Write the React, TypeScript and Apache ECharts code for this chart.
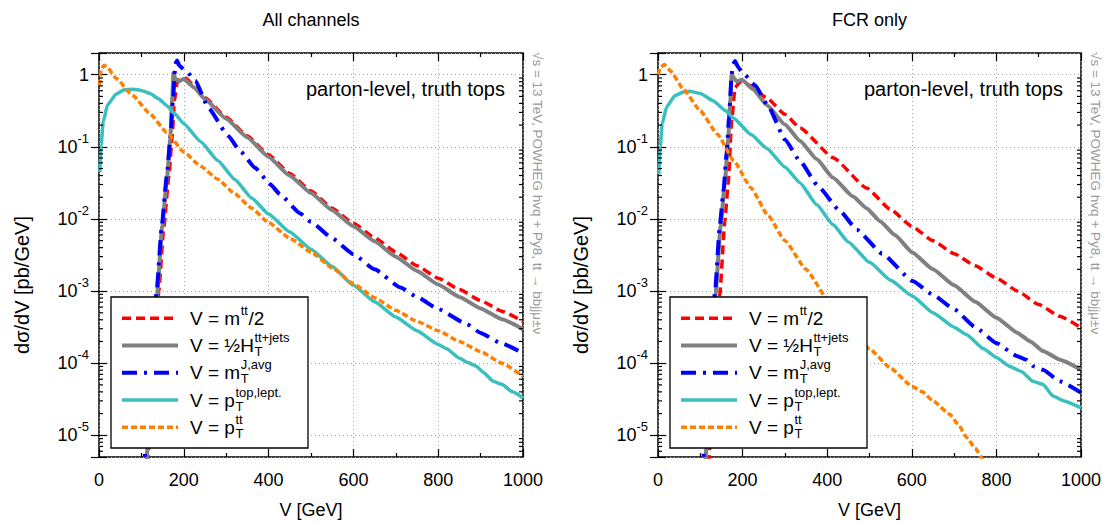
import React, { useEffect, useRef } from "react";
import * as echarts from "echarts";

const FONT = '"Liberation Sans", Arial, Helvetica, sans-serif';

// Panel titles and legend labels
const panelTitles = ["All channels", "FCR only"];
const seriesNames = ["mtt/2", "HT/2", "mT avg", "pT top lept", "pT tt"];

// [V (GeV), dσ/dV (pb/GeV)] — all channels
const allMtt = [
  [115, 4.0e-6], [128, 5.0e-5], [141, 1.0e-3], [153, 7.9e-3], [165, 0.04], [172, 0.126], [178, 0.447],
  [184, 0.76], [192, 0.87], [205, 0.89], [225, 0.69], [250, 0.479], [300, 0.257], [350, 0.141],
  [400, 0.0776], [450, 0.0427], [500, 0.0245], [550, 0.0141], [600, 8.7e-3], [650, 5.5e-3],
  [700, 3.47e-3], [750, 2.24e-3], [800, 1.51e-3], [850, 1.05e-3], [900, 7.4e-4], [950, 5.25e-4], [1000, 3.8e-4],
];
const allHt = [
  [112, 4.0e-6], [124, 5.0e-5], [137, 8.9e-4], [149, 7.9e-3], [161, 0.04], [168, 0.126], [173, 0.5],
  [175.5, 1.05], [180, 0.89], [187, 0.81], [200, 0.87], [225, 0.66], [250, 0.457], [300, 0.245],
  [350, 0.135], [400, 0.0724], [450, 0.0398], [500, 0.0229], [550, 0.0132], [600, 7.9e-3], [650, 4.9e-3],
  [700, 3.0e-3], [750, 1.9e-3], [800, 1.23e-3], [850, 8.3e-4], [900, 5.75e-4], [950, 4.07e-4], [1000, 2.95e-4],
];
const allMtAvg = [
  [105, 2.5e-6], [122, 7.9e-5], [136, 1.0e-3], [148, 7.9e-3], [160, 0.04], [168, 0.126], [175, 0.5],
  [180, 1.41], [184, 1.58], [190, 1.32], [207, 1.1], [227, 0.83], [258, 0.347], [305, 0.141],
  [333, 0.087], [368, 0.0513], [404, 0.0302], [427, 0.0219], [474, 0.012], [500, 9.1e-3], [550, 5.4e-3],
  [600, 3.24e-3], [650, 2.0e-3], [711, 1.12e-3], [750, 8.3e-4], [801, 5.6e-4], [868, 3.47e-4],
  [900, 2.63e-4], [947, 1.9e-4], [1000, 1.38e-4],
];
const allPtTop = [
  [2, 0.0447], [5, 0.107], [10, 0.224], [20, 0.38], [40, 0.537], [60, 0.617], [80, 0.631], [100, 0.603],
  [120, 0.55], [140, 0.468], [160, 0.372], [180, 0.282], [200, 0.209], [240, 0.1175], [280, 0.0646],
  [320, 0.0355], [360, 0.0195], [400, 0.01175], [450, 6.6e-3], [500, 3.8e-3], [550, 2.19e-3],
  [600, 1.2e-3], [650, 7.1e-4], [700, 4.37e-4], [750, 2.82e-4], [800, 1.82e-4], [820, 1.58e-4],
  [850, 1.17e-4], [870, 1.02e-4], [890, 9.1e-5], [907, 7.4e-5], [930, 5.6e-5], [950, 5.1e-5],
  [975, 4.0e-5], [1000, 3.3e-5],
];
const allPtTT = [
  [1, 0.708], [5, 1.2], [12, 1.35], [20, 1.26], [40, 0.89], [80, 0.513], [120, 0.288], [160, 0.158],
  [200, 0.085], [240, 0.0537], [280, 0.0355], [320, 0.0224], [360, 0.0141], [400, 8.9e-3], [450, 5.4e-3],
  [500, 3.47e-3], [550, 2.09e-3], [600, 1.26e-3], [650, 8.1e-4], [700, 5.4e-4], [750, 3.8e-4],
  [800, 2.82e-4], [850, 2.0e-4], [900, 1.45e-4], [950, 1.0e-4], [1000, 6.6e-5],
];

// [V (GeV), dσ/dV (pb/GeV)] — FCR only
const fcrMtt = [
  [120, 4.0e-6], [133, 5.0e-5], [146, 8.9e-4], [158, 9.3e-3], [166, 0.0316], [174, 0.224], [182, 0.66],
  [194, 0.794], [210, 0.741], [257, 0.479], [300, 0.282], [336, 0.182], [414, 0.0708], [493, 0.0269],
  [550, 0.0135], [600, 7.9e-3], [650, 5.0e-3], [700, 3.3e-3], [750, 2.24e-3], [800, 1.51e-3],
  [850, 1.0e-3], [900, 6.5e-4], [950, 4.47e-4], [1000, 3.1e-4],
];
const fcrHt = [
  [112, 4.0e-6], [124, 5.0e-5], [136, 8.9e-4], [148, 7.9e-3], [158, 0.0316], [166, 0.126], [171, 0.447],
  [174, 1.0], [180, 0.89], [186, 0.81], [198, 0.85], [225, 0.63], [257, 0.38], [300, 0.204], [336, 0.12],
  [375, 0.0676], [414, 0.0372], [461, 0.0204], [493, 0.0141], [525, 9.3e-3], [560, 6.0e-3], [602, 3.4e-3],
  [650, 2.0e-3], [700, 1.2e-3], [750, 7.1e-4], [800, 4.27e-4], [850, 2.63e-4], [880, 2.0e-4],
  [910, 1.48e-4], [950, 1.12e-4], [1000, 8.1e-5],
];
const fcrMtAvg = [
  [105, 2.5e-6], [121, 7.9e-5], [135, 1.0e-3], [146, 7.9e-3], [155, 0.0251], [162, 0.0794], [168, 0.251],
  [174, 1.0], [178, 1.41], [182, 1.55], [190, 1.26], [200, 1.07], [229, 0.72], [261, 0.363], [300, 0.126],
  [336, 0.063], [379, 0.0282], [430, 0.0129], [470, 7.1e-3], [530, 3.3e-3], [602, 1.38e-3], [650, 8.9e-4],
  [700, 5.6e-4], [750, 3.16e-4], [800, 1.9e-4], [848, 1.26e-4], [870, 1.12e-4], [887, 9.1e-5],
  [910, 8.1e-5], [950, 5.6e-5], [1000, 3.9e-5],
];
const fcrPtTop = [
  [2, 0.0417], [5, 0.1], [10, 0.209], [20, 0.355], [40, 0.513], [60, 0.575], [75, 0.589], [100, 0.55],
  [130, 0.437], [160, 0.316], [178, 0.251], [220, 0.148], [257, 0.0955], [300, 0.0525], [336, 0.0316],
  [375, 0.0158], [414, 8.3e-3], [450, 4.8e-3], [500, 2.5e-3], [550, 1.41e-3], [602, 8.5e-4], [650, 5.0e-4],
  [700, 3.16e-4], [729, 2.5e-4], [770, 1.58e-4], [800, 1.2e-4], [831, 9.1e-5], [860, 7.6e-5],
  [886, 5.6e-5], [910, 5.1e-5], [934, 3.5e-5], [960, 3.0e-5], [1000, 2.4e-5],
];
const fcrPtTT = [
  [1, 1.0], [5, 1.26], [15, 1.38], [30, 1.12], [60, 0.631], [100, 0.316], [140, 0.151], [180, 0.063],
  [220, 0.0269], [260, 0.0112], [300, 5.0e-3], [350, 2.0e-3], [400, 7.9e-4], [450, 3.4e-4], [500, 1.58e-4],
  [550, 8.5e-5], [600, 4.8e-5], [625, 4.0e-5], [650, 3.0e-5], [690, 1.95e-5], [710, 1.41e-5],
  [730, 9.3e-6], [750, 6.6e-6], [770, 4.5e-6], [790, 3.2e-6],
];

const panelData = [
  [allMtt, allHt, allMtAvg, allPtTop, allPtTT],
  [fcrMtt, fcrHt, fcrMtAvg, fcrPtTop, fcrPtTT],
];

// Axis ranges
const X_MIN = 0;
const X_MAX = 1000;
const X_STEP = 200;
const Y_MIN = 5e-6;
const Y_MAX = 2;

// Line styles for the five observables
const lineStyles = [
  { color: "#ff0000", width: 3.5, dash: [9, 5] as number[] | null },
  { color: "#808080", width: 4, dash: null },
  { color: "#0000ff", width: 4, dash: [15, 7, 3, 7] },
  { color: "#3abfbf", width: 3.5, dash: null },
  { color: "#ff8000", width: 3.5, dash: [6, 3] },
];

// Legend labels: plain text, or a sub/superscript pair
type Part = { t?: string; sub?: string; sup?: string };
const legendLabels: Part[][] = [
  [{ t: "V = m" }, { sup: "tt" }, { t: "/2" }],
  [{ t: "V = \u00BDH" }, { sub: "T", sup: "tt+jets" }],
  [{ t: "V = m" }, { sub: "T", sup: "J,avg" }],
  [{ t: "V = p" }, { sub: "T", sup: "top,lept." }],
  [{ t: "V = p" }, { sub: "T", sup: "tt" }],
];

const GRIDS = [
  { left: 99, top: 53, width: 424, height: 404 },
  { left: 658, top: 53, width: 423, height: 404 },
];

let measureCtx: CanvasRenderingContext2D | null = null;
function textWidth(s: string, size: number): number {
  if (!measureCtx) measureCtx = document.createElement("canvas").getContext("2d");
  if (!measureCtx) return s.length * size * 0.55;
  measureCtx.font = `${size}px ${FONT}`;
  return measureCtx.measureText(s).width;
}

function txt(x: number, y: number, text: string, size: number, opts: any = {}) {
  const align = opts.align || "left";
  const valign = opts.valign || "middle";
  return {
    type: "text",
    x,
    y,
    rotation: opts.rotation || 0,
    z: opts.z || 50,
    silent: true,
    style: {
      text,
      fontSize: size,
      fontFamily: FONT,
      fill: opts.fill || "#000",
      align,
      verticalAlign: valign,
      textAlign: align,
      textVerticalAlign: valign,
    },
  };
}

function legendElements(x0: number, y0: number) {
  const els: any[] = [
    {
      type: "rect",
      z: 60,
      silent: true,
      shape: { x: x0, y: y0, width: 197, height: 151 },
      style: { fill: "#fff", stroke: "#000", lineWidth: 1.3 },
    },
  ];
  const base = 19;
  const small = 13;
  legendLabels.forEach((parts, i) => {
    const cy = y0 + 21.3 + i * 27.25;
    const ls = lineStyles[i];
    els.push({
      type: "line",
      z: 61,
      silent: true,
      shape: { x1: x0 + 11, y1: cy, x2: x0 + 67, y2: cy },
      style: { stroke: ls.color, lineWidth: ls.width, lineDash: ls.dash || undefined, lineCap: "butt" },
    });
    let x = x0 + 79;
    parts.forEach((p) => {
      if (p.t) {
        els.push(txt(x, cy, p.t, base, { z: 62 }));
        x += textWidth(p.t, base);
      } else {
        let w = 0;
        if (p.sup) {
          els.push(txt(x + 0.5, cy - 8, p.sup, small, { z: 62 }));
          w = Math.max(w, textWidth(p.sup, small));
        }
        if (p.sub) {
          els.push(txt(x + 0.5, cy + 6, p.sub, small, { z: 62 }));
          w = Math.max(w, textWidth(p.sub, small));
        }
        x += w + 1;
      }
    });
  });
  return els;
}

function minorLogTicks(): number[] {
  const out: number[] = [];
  for (let e = -6; e <= 0; e++) {
    for (let m = 2; m <= 9; m++) {
      const v = m * Math.pow(10, e);
      if (v > Y_MIN && v < Y_MAX) out.push(v);
    }
  }
  return out;
}

function yLabel(v: number): string {
  const l = Math.log10(v);
  const e = Math.round(l);
  if (Math.abs(l - e) > 1e-6) return "";
  if (e === 0) return "{b|1}";
  return `{b|10}{s|${e}}`;
}

function buildOption() {
  const tickLine = { color: "#000", width: 1.2 };
  const grid = GRIDS.map((g) => ({
    ...g,
    show: true,
    borderColor: "#000",
    borderWidth: 1.5,
    backgroundColor: "transparent",
    outerBoundsMode: "none",
  }));

  const xAxis: any[] = [];
  const yAxis: any[] = [];
  GRIDS.forEach((_, gi) => {
    const xc = {
      type: "value",
      gridIndex: gi,
      min: X_MIN,
      max: X_MAX,
      interval: X_STEP,
      axisLine: { show: false },
      axisTick: { show: true, inside: true, length: 8, lineStyle: tickLine },
      minorTick: { show: true, splitNumber: 2, length: 4, lineStyle: tickLine },
      minorSplitLine: { show: false },
    };
    xAxis.push({
      ...xc,
      position: "bottom",
      axisLabel: {
        color: "#000",
        fontSize: 18,
        fontFamily: FONT,
        margin: 14,
        formatter: (v: number) => String(v),
      },
      splitLine: { show: true, lineStyle: { color: "#a8a8a8", width: 1, type: [1, 3] } },
    });
    xAxis.push({ ...xc, position: "top", axisLabel: { show: false }, splitLine: { show: false } });

    const yc = {
      type: "log",
      logBase: 10,
      gridIndex: gi,
      min: Y_MIN,
      max: Y_MAX,
      axisLine: { show: false },
      axisTick: { show: true, inside: true, length: 8, lineStyle: tickLine },
    };
    yAxis.push({
      ...yc,
      position: "left",
      axisLabel: {
        color: "#000",
        margin: 10,
        formatter: yLabel,
        rich: {
          b: { fontSize: 18, fontFamily: FONT, color: "#000", lineHeight: 30, verticalAlign: "middle" },
          s: { fontSize: 13, fontFamily: FONT, color: "#000", lineHeight: 14, verticalAlign: "top" },
        },
      },
      splitLine: { show: true, lineStyle: { color: "#a8a8a8", width: 1, type: [1, 3] } },
    });
    yAxis.push({ ...yc, position: "right", axisLabel: { show: false }, splitLine: { show: false } });
  });

  const series: any[] = [];
  panelData.forEach((curves, gi) => {
    curves.forEach((data, i) => {
      const ls = lineStyles[i];
      series.push({
        type: "line",
        name: seriesNames[i],
        xAxisIndex: gi * 2,
        yAxisIndex: gi * 2,
        data,
        symbol: "none",
        showSymbol: false,
        smooth: 0.15,
        smoothMonotone: "x",
        z: 2 + i,
        clip: true,
        emphasis: { disabled: true },
        lineStyle: {
          color: ls.color,
          width: ls.width,
          type: ls.dash || "solid",
          cap: "butt",
          join: "round",
        },
        itemStyle: { color: ls.color },
      });
    });
    // minor ticks of the log axis, both edges of the frame
    series.push({
      type: "custom",
      xAxisIndex: gi * 2,
      yAxisIndex: gi * 2,
      silent: true,
      clip: false,
      z: 10,
      data: minorLogTicks().map((v) => [X_MIN, v]),
      encode: { x: 0, y: 1 },
      renderItem: (params: any, api: any) => {
        const v = api.value(1);
        const a = api.coord([X_MIN, v]);
        const b = api.coord([X_MAX, v]);
        const st = { stroke: "#000", lineWidth: 1.2 };
        return {
          type: "group",
          children: [
            { type: "line", shape: { x1: a[0], y1: a[1], x2: a[0] + 4, y2: a[1] }, style: st },
            { type: "line", shape: { x1: b[0] - 4, y1: b[1], x2: b[0], y2: b[1] }, style: st },
          ],
        };
      },
    });
  });

  const graphics: any[] = [];
  GRIDS.forEach((g, gi) => {
    const cx = g.left + g.width / 2;
    const right = g.left + g.width;
    graphics.push(txt(cx, 20, panelTitles[gi], 18, { align: "center" }));
    graphics.push(txt(cx, 510, "V [GeV]", 18, { align: "center" }));
    graphics.push(txt(g.left - 77, 285, "d\u03C3/dV [pb/GeV]", 20, { align: "center", rotation: Math.PI / 2 }));
    graphics.push(txt(right - 18, 89, "parton-level, truth tops", 20, { align: "right" }));
    graphics.push(
      txt(right + 14, 52, "\u221As = 13 TeV, POWHEG hvq + Py8, tt \u2192 bbjj\u03BC\u00B1\u03BD", 13.5, {
        align: "left",
        rotation: -Math.PI / 2,
        fill: "#999",
      })
    );
    graphics.push(...legendElements(g.left + 12, 297));
  });

  return {
    animation: false,
    backgroundColor: "#fff",
    textStyle: { fontFamily: FONT },
    grid,
    xAxis,
    yAxis,
    series,
    graphic: { elements: graphics },
  };
}

export default function App() {
  const ref = useRef<HTMLDivElement>(null);
  useEffect(() => {
    if (!ref.current) return;
    const chart = echarts.init(ref.current, null, { renderer: "svg" });
    chart.setOption(buildOption() as any);
    return () => chart.dispose();
  }, []);
  return <div ref={ref} style={{ position: "absolute", left: 0, top: 0, width: 1109, height: 522 }} />;
}
